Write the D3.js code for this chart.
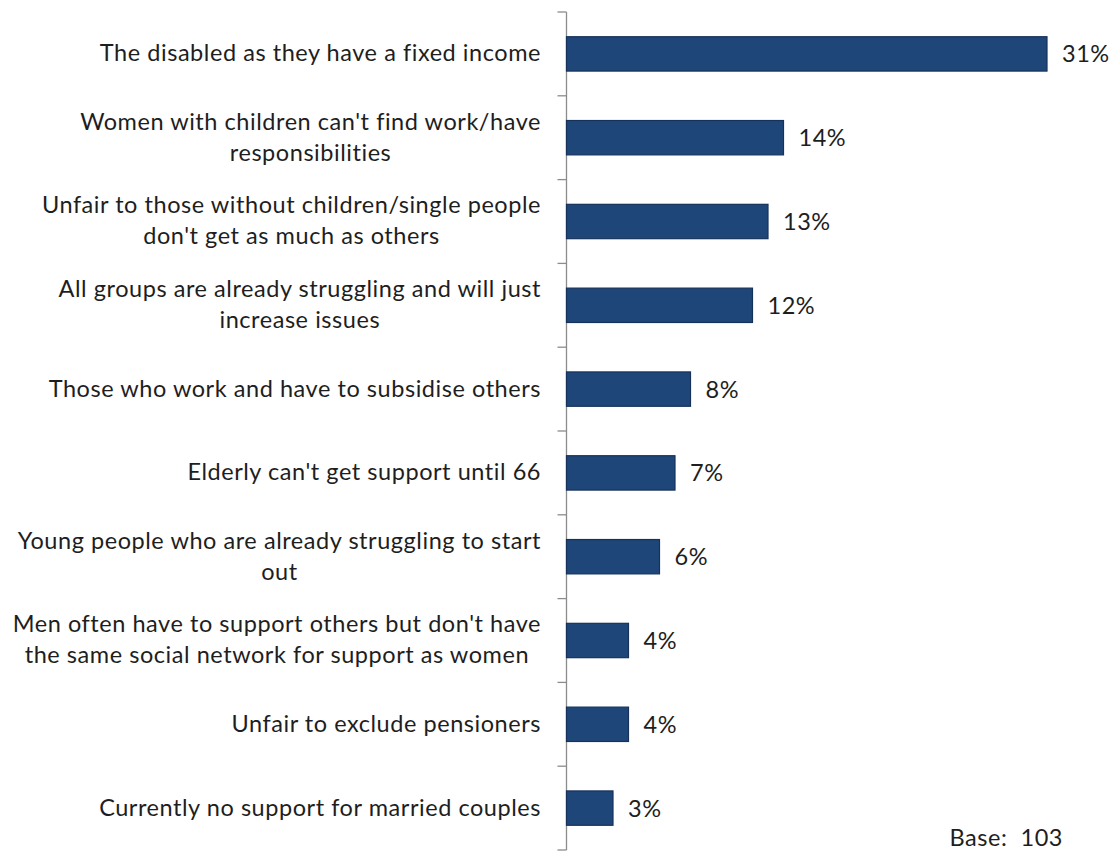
<!DOCTYPE html>
<html>
<head>
<meta charset="utf-8">
<script src="https://cdn.jsdelivr.net/npm/d3@7"></script>
<style>
  html, body { margin: 0; padding: 0; background: #fff; }
  svg { display: block; }
  text { font-family: "Lato", "Open Sans", sans-serif; fill: #1e1e1e; letter-spacing: 0.55px; }
</style>
</head>
<body>
<svg id="chart" width="1116" height="851"></svg>
<script>
// Reasons given, one line break per wrapped label line
const categories = [
  "The disabled as they have a fixed income",
  "Women with children can't find work/have\nresponsibilities",
  "Unfair to those without children/single people\ndon't get as much as others",
  "All groups are already struggling and will just\nincrease issues",
  "Those who work and have to subsidise others",
  "Elderly can't get support until 66",
  "Young people who are already struggling to start\nout",
  "Men often have to support others but don't have\nthe same social network for support as women",
  "Unfair to exclude pensioners",
  "Currently no support for married couples"
];
const values = [31, 14, 13, 12, 8, 7, 6, 4, 4, 3];
const baseText = "Base:  103";

const svg = d3.select("#chart");
const fontSize = 23.5;

const axisX = 566.5;
const plotTop = 12, plotBottom = 850;

const x = d3.scaleLinear().domain([0, 35]).range([axisX, axisX + 35 * 15.5]);
const y = d3.scaleBand()
  .domain(categories)
  .range([plotTop, plotBottom])
  .paddingInner(0.59)
  .paddingOuter(0.295);

// Axis line and category boundary ticks
const g = svg.append("g");
g.append("line")
  .attr("x1", axisX).attr("x2", axisX)
  .attr("y1", plotTop).attr("y2", plotBottom)
  .attr("stroke", "#8c8c8c").attr("stroke-width", 1.3);

const boundaries = categories.map(c => y(c) - y.step() * y.paddingOuter());
boundaries.push(plotBottom);
g.selectAll("line.tick").data(boundaries).join("line")
  .attr("class", "tick")
  .attr("x1", axisX - 9).attr("x2", axisX)
  .attr("y1", d => d).attr("y2", d => d)
  .attr("stroke", "#8c8c8c").attr("stroke-width", 1.3);

// Bars
svg.selectAll("rect.bar").data(values).join("rect")
  .attr("class", "bar")
  .attr("x", x(0))
  .attr("y", (d, i) => y(categories[i]))
  .attr("width", d => x(d) - x(0))
  .attr("height", y.bandwidth())
  .attr("fill", "#1f4678")
  .attr("stroke", "#16325a")
  .attr("stroke-width", 1.2);

// Value labels
svg.selectAll("text.val").data(values).join("text")
  .attr("class", "val")
  .attr("x", d => x(d) + 15)
  .attr("y", (d, i) => y(categories[i]) + y.bandwidth() / 2)
  .attr("dy", "0.36em")
  .attr("font-size", fontSize)
  .text(d => d + "%");

// Category labels: lines centred on each other, block right-aligned to the axis
const labelRight = 541;
const lineH = 31;
categories.forEach((c, i) => {
  const lines = c.split("\n");
  const t = svg.append("text")
    .attr("font-size", fontSize)
    .attr("text-anchor", "middle");
  const cy = y(c) + y.bandwidth() / 2 - 1;
  lines.forEach((ln, j) => {
    t.append("tspan")
      .attr("y", cy + (j - (lines.length - 1) / 2) * lineH)
      .attr("dy", "0.36em")
      .text(ln);
  });
  let maxW = 0;
  t.selectAll("tspan").each(function () {
    maxW = Math.max(maxW, this.getComputedTextLength());
  });
  t.selectAll("tspan").attr("x", labelRight - maxW / 2);
});

// Base note
svg.append("text")
  .attr("x", 1063).attr("y", 838)
  .attr("dy", "0.36em")
  .attr("text-anchor", "end")
  .attr("font-size", fontSize)
  .style("white-space", "pre")
  .text(baseText);
</script>
</body>
</html>
